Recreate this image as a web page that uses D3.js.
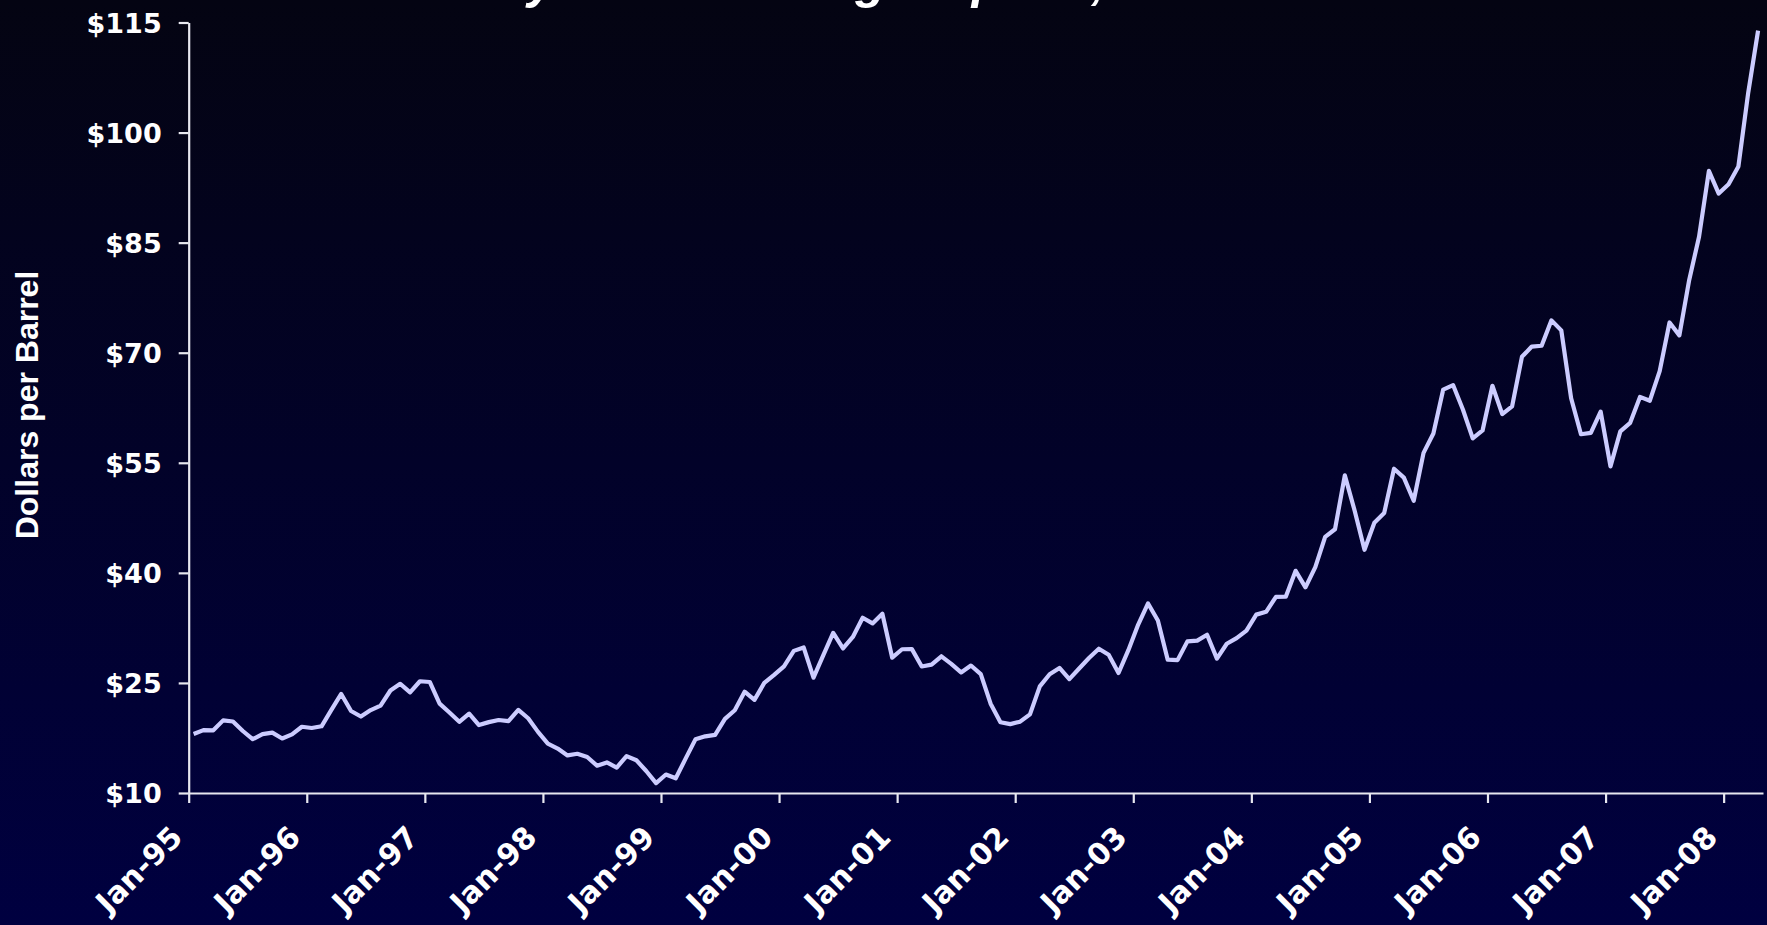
<!DOCTYPE html>
<html><head><meta charset="utf-8">
<script src="https://cdn.jsdelivr.net/npm/d3@7"></script>
<style>html,body{margin:0;padding:0;overflow:hidden;background:#00003a}</style>
</head><body><svg id="c" width="1767" height="925"></svg>
<script>
const titleText = "History of fluctuating oil price, 1995–2008";
const yAxisTitle = "Dollars per Barrel";
const yTicks = [10, 25, 40, 55, 70, 85, 100, 115];
const xTickLabels = ["Jan-95","Jan-96","Jan-97","Jan-98","Jan-99","Jan-00","Jan-01","Jan-02","Jan-03","Jan-04","Jan-05","Jan-06","Jan-07","Jan-08"];

const p1995 = [18.04,18.57,18.54,19.90,19.74,18.45,17.33,18.02,18.23,17.43,17.99,19.03];
const p1996 = [18.86,19.09,21.33,23.50,21.17,20.42,21.30,21.90,23.97,24.88,23.71,25.23];
const p1997 = [25.13,22.18,20.97,19.70,20.82,19.26,19.66,19.95,19.80,21.33,20.19,18.33];
const p1998 = [16.72,16.06,15.12,15.35,14.91,13.72,14.17,13.47,15.03,14.46,13.00,11.35];
const p1999 = [12.52,12.01,14.68,17.31,17.72,17.92,20.10,21.28,23.80,22.69,25.00,26.10];
const p2000 = [27.26,29.37,29.84,25.72,28.79,31.82,29.70,31.26,33.88,33.11,34.42,28.44];
const p2001 = [29.59,29.61,27.24,27.49,28.63,27.60,26.43,27.37,26.20,22.17,19.64,19.39];
const p2002 = [19.72,20.72,24.53,26.18,27.04,25.52,26.97,28.39,29.66,28.84,26.35,29.46];
const p2003 = [32.95,35.83,33.51,28.17,28.11,30.66,30.76,31.57,28.31,30.34,31.11,32.13];
const p2004 = [34.31,34.69,36.74,36.75,40.28,38.03,40.78,44.90,45.94,53.28,48.47,43.15];
const p2005 = [46.84,48.15,54.19,52.98,49.83,56.35,58.99,64.98,65.59,62.26,58.32,59.41];
const p2006 = [65.49,61.63,62.69,69.44,70.84,70.95,74.41,73.04,63.80,58.89,59.08,61.96];
const p2007 = [54.51,59.28,60.44,63.98,63.46,67.49,74.12,72.36,79.92,85.80,94.77,91.69];
const p2008 = [92.97,95.39,105.45,113.9];

const prices = [].concat(p1995,p1996,p1997,p1998,p1999,p2000,p2001,p2002,p2003,p2004,p2005,p2006,p2007,p2008);

const svg = d3.select("#c");
const defs = svg.append("defs");
const grad = defs.append("linearGradient").attr("id","bg").attr("x1",0).attr("y1",0).attr("x2",0).attr("y2",1);
grad.append("stop").attr("offset","0%").attr("stop-color","#040412");
grad.append("stop").attr("offset","100%").attr("stop-color","#000040");
svg.append("rect").attr("width",1767).attr("height",925).attr("fill","url(#bg)");

// title (mostly above the visible area, only descenders show)
svg.append("text").attr("x",383).attr("y",-2)
  .attr("font-family","'Liberation Sans', Arial, sans-serif").attr("font-weight","bold")
  .attr("font-style","italic").attr("font-size",50).attr("fill","#ffffff").text(titleText);

const x = d3.scaleLinear().domain([0, prices.length]).range([188.7, 1763]);
const y = d3.scaleLinear().domain([10, 115]).range([793, 22.5]);

const tickFont = "'DejaVu Sans', Verdana, sans-serif";

const yAxis = svg.append("g").attr("transform","translate(188.7,0)")
  .call(d3.axisLeft(y).tickValues(yTicks).tickSize(10).tickSizeOuter(0).tickPadding(17).tickFormat(d => "$" + d));
const xAxis = svg.append("g").attr("transform","translate(0,793)")
  .call(d3.axisBottom(x).tickValues(d3.range(0, 157, 12)).tickSize(10).tickSizeOuter(0).tickFormat((d,i) => xTickLabels[i]));

[yAxis, xAxis].forEach(g => {
  g.select(".domain").attr("stroke","#e8e8f0").attr("stroke-width",2.2);
  g.selectAll(".tick line").attr("stroke","#e8e8f0").attr("stroke-width",2.2);
  g.selectAll(".tick text").attr("fill","#ffffff").attr("font-family",tickFont)
    .attr("font-weight","bold").attr("font-size",27);
});
yAxis.selectAll(".tick text").attr("dy","0.36em");
xAxis.selectAll(".tick text").attr("font-size",30).attr("text-anchor","end")
  .attr("x",0).attr("y",0).attr("dy",0).attr("transform","translate(-5,46) rotate(-45)");

svg.append("text").attr("transform","translate(38,405) rotate(-90)").attr("text-anchor","middle")
  .attr("font-family","'Liberation Sans', Arial, sans-serif").attr("font-weight","bold")
  .attr("font-size",32).attr("fill","#ffffff").text(yAxisTitle);

const line = d3.line().x((d,i) => x(i + 0.5)).y(d => y(d));
svg.append("path").datum(prices).attr("d", line).attr("fill","none")
  .attr("stroke","#ccccff").attr("stroke-width",4.2).attr("stroke-linejoin","round");
</script></body></html>
